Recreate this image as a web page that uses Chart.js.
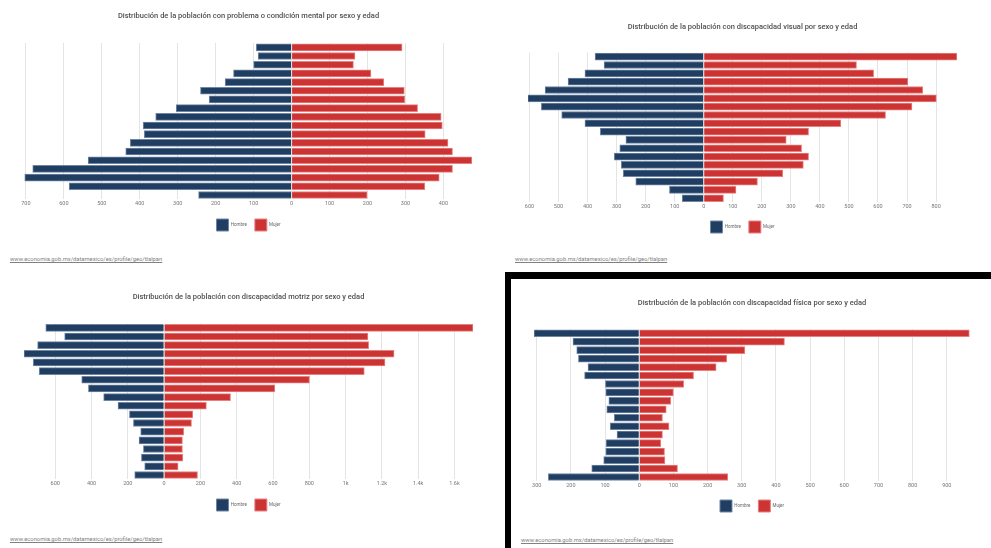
<!DOCTYPE html>
<html>
<head>
<meta charset="utf-8">
<script src="https://cdn.jsdelivr.net/npm/chart.js@4.4.0/dist/chart.umd.min.js"></script>
<style>
  body { margin: 0; background: #fff; width: 991px; height: 548px; overflow: hidden; position: relative; font-family: Roboto, sans-serif; }
  canvas { position: absolute; }
  .link { position: absolute; font-size: 5.8px; color: #808080; text-decoration: underline; white-space: nowrap; }
  .frame { position: absolute; left: 505px; top: 272px; width: 600px; height: 400px; border-left: 6px solid #000; border-top: 7px solid #000; }
</style>
</head>
<body>
<div class="frame"></div>
<canvas id="mental" width="495" height="241" style="left:0;top:0"></canvas>
<canvas id="visual" width="491" height="243" style="left:500px;top:0"></canvas>
<canvas id="motriz" width="495" height="241" style="left:0;top:280px"></canvas>
<canvas id="fisica" width="480" height="243" style="left:511px;top:279px"></canvas>
<span class="link" style="left:10px;top:256px">www.economia.gob.mx/datamexico/es/profile/geo/tlalpan</span>
<span class="link" style="left:515px;top:256px">www.economia.gob.mx/datamexico/es/profile/geo/tlalpan</span>
<span class="link" style="left:10px;top:536px">www.economia.gob.mx/datamexico/es/profile/geo/tlalpan</span>
<span class="link" style="left:521px;top:537px">www.economia.gob.mx/datamexico/es/profile/geo/tlalpan</span>
<script>
// age groups, top bar first
const ageGroups = ['85 años o más', '80 a 84 años', '75 a 79 años', '70 a 74 años', '65 a 69 años',
    '60 a 64 años', '55 a 59 años', '50 a 54 años', '45 a 49 años', '40 a 44 años', '35 a 39 años',
    '30 a 34 años', '25 a 29 años', '20 a 24 años', '15 a 19 años', '10 a 14 años', '5 a 9 años', '0 a 4 años'];

const mentalHombre = [93, 88, 100, 153, 175, 240, 217, 304, 358, 391, 388, 425, 437, 536, 682, 703, 586, 245];
const mentalMujer = [291, 167, 163, 209, 243, 297, 298, 332, 394, 397, 352, 412, 424, 475, 424, 389, 351, 199];

const visualHombre = [374, 343, 409, 467, 546, 606, 559, 489, 409, 356, 268, 289, 308, 284, 277, 234, 118, 74];
const visualMujer = [872, 526, 585, 703, 754, 801, 717, 626, 472, 361, 284, 337, 361, 343, 272, 185, 111, 68];

const motrizHombre = [652, 548, 697, 772, 721, 688, 454, 417, 333, 254, 191, 169, 129, 138, 114, 125, 107, 162];
const motrizMujer = [1702, 1123, 1127, 1267, 1217, 1103, 801, 610, 366, 233, 158, 151, 108, 101, 101, 103, 77, 184];

const fisicaHombre = [308, 194, 183, 178, 150, 160, 99, 98, 89, 95, 73, 85, 65, 97, 98, 104, 139, 266];
const fisicaMujer = [966, 425, 309, 256, 225, 159, 130, 100, 92, 79, 68, 87, 68, 63, 74, 75, 112, 259];

const seriesNames = ['Hombre', 'Mujer'];

const navy = '#203e62';
const navyEdge = '#6f86a3';
const red = '#cc3434';
const redEdge = '#e88080';

function tickLabel(value) {
    let v = Math.abs(value);
    if (v >= 1000) {
        return (v / 1000) + 'k';
    }
    return v.toString();
}

function setupPyramid(id, hombre, mujer, cfg) {
    return new Chart(document.getElementById(id), {
        type: 'bar',
        data: {
            labels: ageGroups,
            datasets: [
                {
                    label: seriesNames[0],
                    data: hombre.map(v => -v),
                    backgroundColor: navy,
                    borderColor: navyEdge,
                    borderWidth: 1,
                    barThickness: 7
                },
                {
                    label: seriesNames[1],
                    data: mujer,
                    backgroundColor: red,
                    borderColor: redEdge,
                    borderWidth: 1,
                    barThickness: 7
                }
            ]
        },
        options: {
            indexAxis: 'y',
            responsive: false,
            animation: false,
            layout: {padding: cfg.pad},
            plugins: {
                title: {
                    display: true,
                    text: cfg.title,
                    color: '#505050',
                    font: {family: 'Roboto', size: 7.5, weight: '500'},
                    padding: cfg.titlePad
                },
                legend: {
                    position: 'bottom',
                    labels: {
                        boxWidth: 12,
                        boxHeight: 12,
                        padding: 8,
                        color: '#666',
                        font: {family: 'Roboto', size: 4.5}
                    }
                },
                tooltip: {enabled: false}
            },
            scales: {
                x: {
                    stacked: true,
                    min: cfg.min,
                    max: cfg.max,
                    ticks: {
                        stepSize: cfg.step,
                        includeBounds: false,
                        maxRotation: 0,
                        autoSkip: false,
                        padding: 1,
                        color: '#777',
                        font: {family: 'Roboto', size: 5.5},
                        callback: tickLabel
                    },
                    grid: {color: '#e4e4e4', drawTicks: false},
                    border: {display: false},
                    afterFit: (scale) => { scale.height = cfg.axisH; }
                },
                y: {stacked: true, display: false}
            }
        }
    });
}

setupPyramid('mental', mentalHombre, mentalMujer, {
    title: 'Distribución de la población con problema o condición mental por sexo y edad',
    titlePad: {top: 11.5, bottom: 22.5},
    pad: {left: 24, right: 22, top: 0, bottom: 0},
    min: -705, max: 478, step: 100, axisH: 11.7
});

setupPyramid('visual', visualHombre, visualMujer, {
    title: 'Distribución de la población con discapacidad visual por sexo y edad',
    titlePad: {top: 22.5, bottom: 21},
    pad: {left: 28, right: 34, top: 0, bottom: 0},
    min: -605, max: 872, step: 100, axisH: 10.6
});

setupPyramid('motriz', motrizHombre, motrizMujer, {
    title: 'Distribución de la población con discapacidad motriz por sexo y edad',
    titlePad: {top: 12.8, bottom: 21.7},
    pad: {left: 24, right: 22, top: 0, bottom: 0},
    min: -772, max: 1702, step: 200, axisH: 11.7
});

setupPyramid('fisica', fisicaHombre, fisicaMujer, {
    title: 'Distribución de la población con discapacidad física por sexo y edad',
    titlePad: {top: 19.8, bottom: 21.2},
    pad: {left: 23, right: 21, top: 0, bottom: 0},
    min: -308, max: 968, step: 100, axisH: 10.8
});
</script>
</body>
</html>
